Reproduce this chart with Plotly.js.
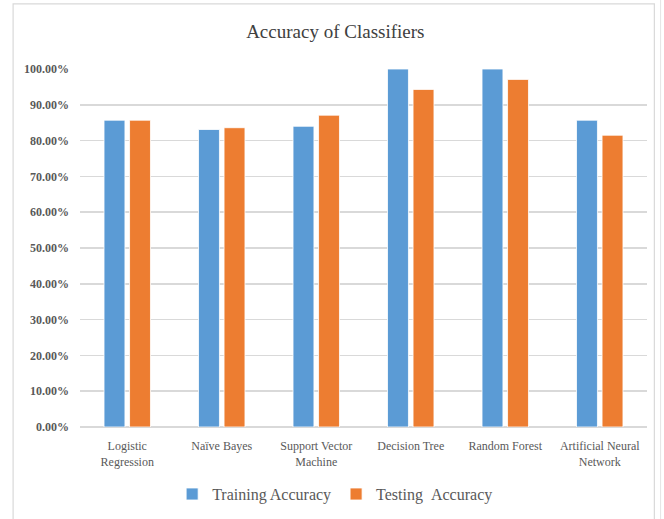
<!DOCTYPE html>
<html>
<head>
<meta charset="utf-8">
<script src="https://cdn.plot.ly/plotly-3.0.1.min.js"></script>
<style>html,body{margin:0;padding:0;background:#fff;}#chart{width:664px;height:519px;}</style>
</head>
<body>
<div id="chart"></div>
<script>
var categories = ["Logistic<br>Regression", "Naïve Bayes", "Support Vector<br>Machine", "Decision Tree", "Random Forest", "Artificial Neural<br>Network"];
var trainingAccuracy = [85.7, 83.1, 84.0, 100.0, 100.0, 85.7];
var testingAccuracy = [85.7, 83.6, 87.1, 94.3, 97.1, 81.5];
var yTickVals = [0, 10, 20, 30, 40, 50, 60, 70, 80, 90, 100];
var yTickText = ["0.00%", "10.00%", "20.00%", "30.00%", "40.00%", "50.00%", "60.00%", "70.00%", "80.00%", "90.00%", "100.00%"];

var serif = "Liberation Serif, Times New Roman, serif";
var grey = "#595959";

var traces = [
  {type: "bar", name: "Training Accuracy", x: categories, y: trainingAccuracy,
   marker: {color: "#5B9BD5", line: {color: "#ffffff", width: 0.8}}},
  {type: "bar", name: "Testing\u00a0\u00a0Accuracy", x: categories, y: testingAccuracy,
   marker: {color: "#ED7D31", line: {color: "#ffffff", width: 0.8}}}
];

var layout = {
  width: 664, height: 519,
  margin: {l: 80, r: 17, t: 69, b: 92},
  paper_bgcolor: "#ffffff", plot_bgcolor: "#ffffff",
  title: {text: "Accuracy of Classifiers", x: 0.505, xanchor: "center", y: 0.94, yanchor: "middle",
          font: {family: serif, size: 19, color: "#404040"}},
  barmode: "group", bargap: 0.46, bargroupgap: 0.18,
  showlegend: true,
  legend: {orientation: "h", x: 0.45, xanchor: "center", yref: "container", y: 0.048, yanchor: "middle",
           font: {family: serif, size: 16, color: grey}, itemwidth: 30, tracegroupgap: 0},
  xaxis: {type: "category", showgrid: false, showline: false, zeroline: false, ticks: "",
          ticklabelstandoff: 10,
          tickfont: {family: serif, size: 12, color: grey}, automargin: false},
  yaxis: {range: [0, 100], tickvals: yTickVals, ticktext: yTickText, showgrid: true,
          gridcolor: "#d9d9d9", gridwidth: 1.5, zeroline: true, zerolinecolor: "#d9d9d9", zerolinewidth: 1.5,
          showline: false, ticks: "", ticklabelstandoff: 10,
          tickfont: {family: serif, size: 12, color: grey, weight: "bold"}, automargin: false},
  shapes: [
    {type: "rect", xref: "paper", yref: "paper", x0: -0.118, x1: 1.013, y0: -0.35, y1: 1.182,
     line: {color: "#d9d9d9", width: 1.2}, fillcolor: "rgba(0,0,0,0)", layer: "below"},
    {type: "line", xref: "paper", yref: "paper", x0: 1.024, x1: 1.024, y0: -0.35, y1: 1.2,
     line: {color: "#e4e4e4", width: 1}}
  ]
};

Plotly.newPlot("chart", traces, layout, {staticPlot: true, displayModeBar: false});
</script>
</body>
</html>
